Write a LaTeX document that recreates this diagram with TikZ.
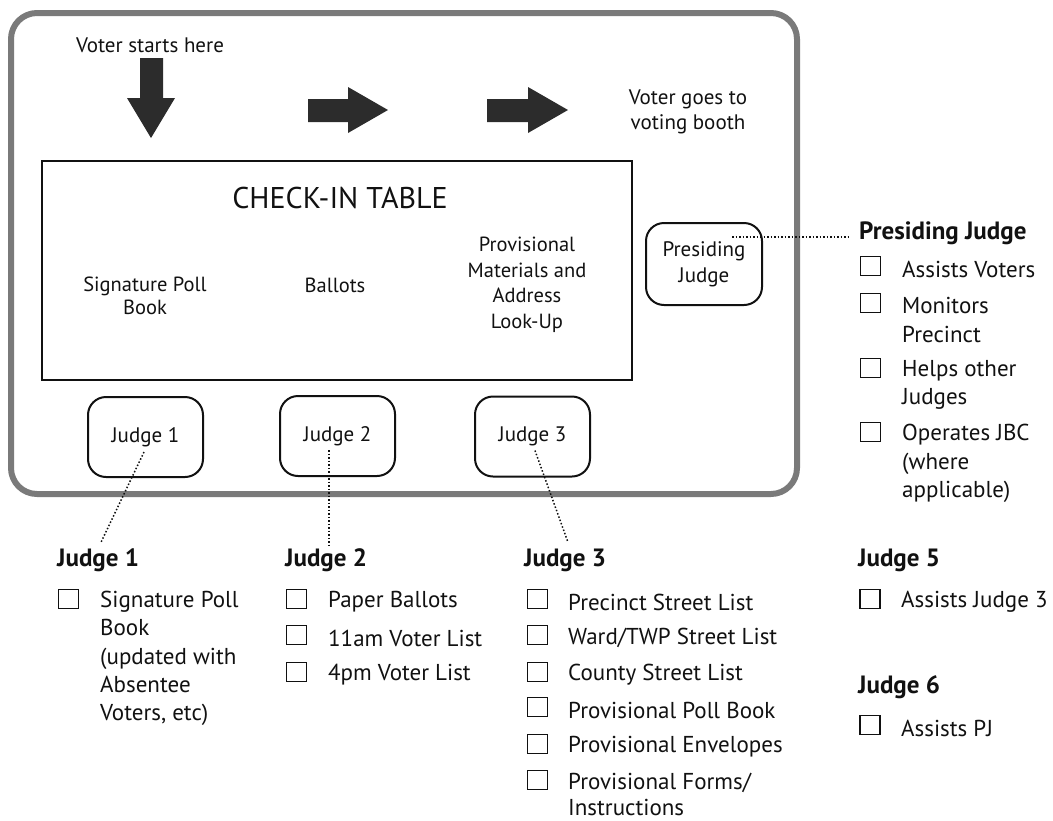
\documentclass[tikz,border=0pt]{standalone}
\usepackage{fontspec}
\setmainfont{PT Sans}
\usetikzlibrary{calc}
\definecolor{ink}{HTML}{111111}
\definecolor{arrowgray}{HTML}{2C2C2C}
\definecolor{bordergray}{HTML}{7A7A7A}
\begin{document}
\begin{tikzpicture}[x=1pt,y=-1pt,
  every node/.style={text=ink},
  outerbox/.style={draw=bordergray,line width=6pt,rounded corners=26pt},
  tablebox/.style={draw=ink,line width=1.8pt},
  judgebox/.style={draw=ink,line width=2pt,rounded corners=18pt,minimum width=115pt,minimum height=80pt,inner sep=0pt,align=center,font=\fontsize{21}{26}\selectfont},
  chk/.style={draw=ink,line width=1.7pt,minimum width=20pt,minimum height=19pt,inner sep=0pt},
  item/.style={anchor=west,inner sep=0pt,align=left,font=\fontsize{23}{28.3}\selectfont},
  head/.style={anchor=west,inner sep=0pt,font=\bfseries\fontsize{25}{28}\selectfont},
  tabletext/.style={align=center,inner sep=0pt,font=\fontsize{20.5}{23.5}\selectfont},
  conn/.style={draw=ink,dotted,line width=1.5pt},
  bigarrow/.style={fill=arrowgray,draw=none}
]
\useasboundingbox (0,0) rectangle (1053,820);

% outer room
\draw[outerbox] (11,13) rectangle (797,494);

% flow arrows
\fill[bigarrow] (140,58) -- (163,58) -- (163,98) -- (175,98) -- (151,138) -- (127,98) -- (140,98) -- cycle;
\fill[bigarrow] (308,99) -- (348,99) -- (348,87) -- (388,110) -- (348,133) -- (348,122) -- (308,122) -- cycle;
\fill[bigarrow] (487,99) -- (528,99) -- (528,87) -- (568,110) -- (528,133) -- (528,122) -- (487,122) -- cycle;

\node[inner sep=0pt,font=\fontsize{21}{24}\selectfont] (start) at (150,45) {Voter starts here};
\node[inner sep=0pt,align=center,font=\fontsize{21}{25}\selectfont] (booth) at (688,112) {Voter goes to\\voting booth};

% check-in table
\draw[tablebox] (42,161) rectangle (632,380);
\node[inner sep=0pt,font=\fontsize{30}{34}\selectfont] (title) at (340,198) {CHECK-IN TABLE};
\node[tabletext] (t1) at (145,296) {Signature Poll\\Book};
\node[tabletext] (t2) at (335,285) {Ballots};
\node[tabletext,font=\fontsize{20.5}{25.5}\selectfont] (t3) at (527,285) {Provisional\\Materials and\\Address\\Look-Up};

% judge boxes
\node[judgebox] (j1) at (145.5,437) {\raisebox{4.5pt}{Judge 1}};
\node[judgebox] (j2) at (337.5,436) {\raisebox{4.5pt}{Judge 2}};
\node[judgebox] (j3) at (532.5,436.5) {\raisebox{4.5pt}{Judge 3}};
\node[judgebox,minimum width=116pt,minimum height=82pt] (pj) at (704,264) {Presiding\\Judge};

% headings
\node[head] (hpj) at (859,233) {Presiding Judge};
\node[head] (h1) at (57,560) {Judge 1};
\node[head] (h2) at (285,560) {Judge 2};
\node[head] (h3) at (524,560) {Judge 3};
\node[head] (h5) at (858,560) {Judge 5};
\node[head] (h6) at (858,687) {Judge 6};

% connectors
\coordinate (j1s) at ($(j1.center)+(-1.5,15)$);
\coordinate (j1e) at ($(h1.north west)+(44,-6)$);
\draw[conn] (j1s) -- (j1e);
\coordinate (j2s) at ($(j2.center)+(-8.5,14)$);
\coordinate (j2e) at (329,545);
\draw[conn] (j2s) -- (j2e);
\coordinate (j3s) at ($(j3.center)+(2.5,14)$);
\coordinate (j3e) at ($(h3.north west)+(44,-6)$);
\draw[conn] (j3s) -- (j3e);
\coordinate (pjs) at ($(pj.center)+(28,-27)$);
\coordinate (pje) at ($(hpj.west)+(-9,4)$);
\draw[conn] (pjs) -- (pje);

% Presiding judge list
\node[chk] (pc1) at (870.5,266) {};
\node[item] (pi1) at (902,269) {Assists Voters};
\node[chk] (pc2) at (870.5,303) {};
\node[item] (pi2) at (902,320) {Monitors\\Precinct};
\node[chk] (pc3) at (870.5,368) {};
\node[item] (pi3) at (902,385) {Helps other\\Judges};
\node[chk] (pc4) at (870.5,432) {};
\node[item] (pi4) at (902,463.5) {Operates JBC\\(where\\applicable)};

% Judge 1 list
\node[chk] (c11) at (68.5,599) {};
\node[item] (i11) at (100,658.5) {Signature Poll\\Book\\(updated with\\Absentee\\Voters, etc)};

% Judge 2 list
\node[chk] (c21) at (296.5,599) {};
\node[item] (i21) at (328,602) {Paper Ballots};
\node[chk] (c22) at (296.5,635) {};
\node[item] (i22) at (328,638) {11am Voter List};
\node[chk] (c23) at (296.5,672) {};
\node[item] (i23) at (328,675) {4pm Voter List};

% Judge 3 list
\node[chk] (c31) at (537.5,599) {};
\node[item] (i31) at (568,602) {Precinct Street List};
\node[chk] (c32) at (537.5,635) {};
\node[item] (i32) at (568,638) {Ward/TWP Street List};
\node[chk] (c33) at (537.5,672) {};
\node[item] (i33) at (568,675) {County Street List};
\node[chk] (c34) at (537.5,707) {};
\node[item] (i34) at (568,710) {Provisional Poll Book};
\node[chk] (c35) at (537.5,744) {};
\node[item] (i35) at (568,747) {Provisional Envelopes};
\node[chk] (c36) at (537.5,780) {};
\node[item,font=\fontsize{23}{26}\selectfont] (i36) at (568,794) {Provisional Forms/\\Instructions};

% Judge 5 and 6
\node[chk] (c51) at (870,599) {};
\node[item] (i51) at (901,602) {Assists Judge 3};
\node[chk] (c61) at (870,725) {};
\node[item] (i61) at (901,728) {Assists PJ};
\end{tikzpicture}
\end{document}
